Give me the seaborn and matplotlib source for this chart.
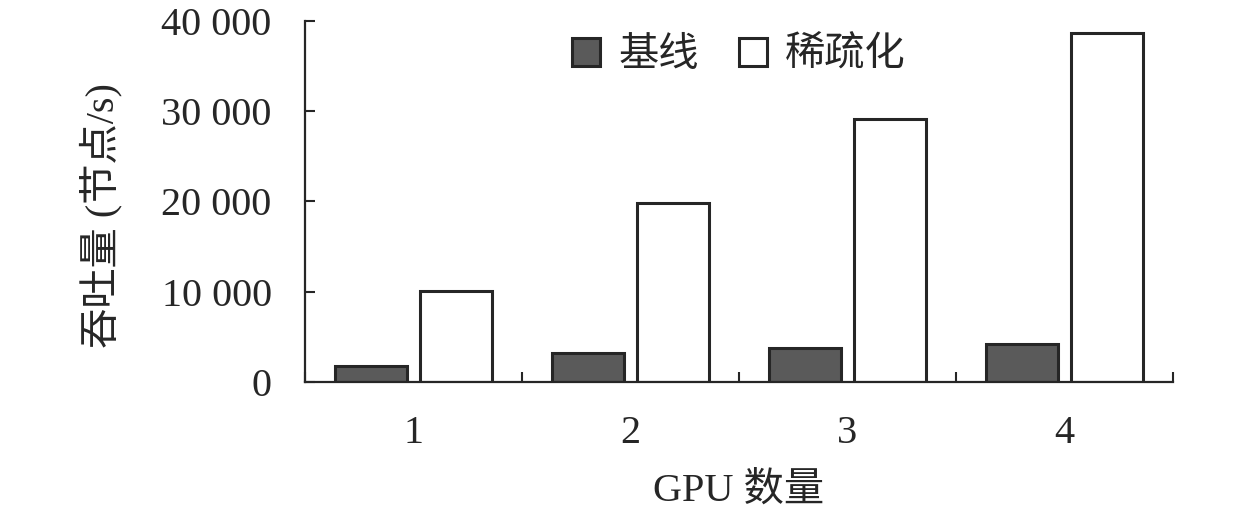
import pandas as pd
import numpy as np
import seaborn as sns
import matplotlib.pyplot as plt
from matplotlib.ticker import FuncFormatter, FixedLocator

# dados
gpus = ["1", "2", "3", "4"]
baseline = [1800, 3200, 3800, 4200]
sparse = [10100, 19800, 29100, 38700]
series_names = ["基线", "稀疏化"]
y_ticks = [0, 10000, 20000, 30000, 40000]

dados = pd.DataFrame({
    "GPU": gpus * 2,
    "valor": baseline + sparse,
    "serie": [series_names[0]] * len(gpus) + [series_names[1]] * len(gpus),
})

sns.set_style("ticks")
plt.rcParams["font.family"] = ["Liberation Serif", "Noto Sans CJK SC"]
plt.rcParams["font.size"] = 29

fig = plt.figure(figsize=(12.59, 5.15), dpi=100)
ax = fig.add_axes([0.2423, 0.2583, 0.6894, 0.7009])

cores = {series_names[0]: "#5a5a5a", series_names[1]: "white"}
sns.barplot(data=dados, x="GPU", y="valor", hue="serie", palette=cores,
            width=0.78, gap=0.15, edgecolor="#262626", linewidth=2.2,
            saturation=1, ax=ax)

ax.set_xlim(-0.5, 3.5)
ax.set_ylim(0, 40000)
ax.set_yticks(y_ticks)
ax.yaxis.set_major_formatter(FuncFormatter(lambda v, p: f"{v:,.0f}".replace(",", " ")))

ax.xaxis.set_minor_locator(FixedLocator(np.arange(-0.5, 4, 1)))
ax.tick_params(axis="x", which="major", length=0, pad=24, labelsize=29)
ax.tick_params(axis="x", which="minor", direction="in", length=7, width=1.5, color="#262626")
ax.tick_params(axis="y", direction="in", length=7, width=1.5, color="#262626", pad=24, labelsize=29)

for s in ["top", "right"]:
    ax.spines[s].set_visible(False)
for s in ["left", "bottom"]:
    ax.spines[s].set_linewidth(1.6)
    ax.spines[s].set_color("#262626")

ax.set_xlabel("GPU 数量", fontsize=29)
ax.set_ylabel("吞吐量 (节点/s)", fontsize=29)
ax.xaxis.set_label_coords(0.5, -0.25)
ax.yaxis.set_label_coords(-0.21, 0.46)

handles, labels = ax.get_legend_handles_labels()
ax.legend(handles, labels, loc="center", bbox_to_anchor=(0.5, 0.903), ncol=2,
          frameon=False, fontsize=29, handlelength=0.7, handleheight=0.7,
          handletextpad=0.45, columnspacing=1.0, borderaxespad=0)

fig.savefig("out.png", dpi=100)
